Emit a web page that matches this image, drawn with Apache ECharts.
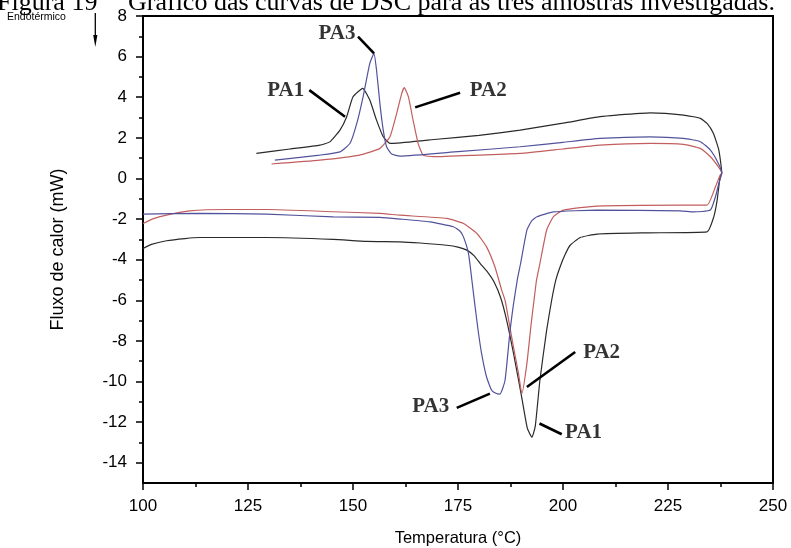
<!DOCTYPE html>
<html>
<head>
<meta charset="utf-8">
<script src="https://cdn.jsdelivr.net/npm/echarts@6.0.0/dist/echarts.min.js"></script>
<style>
html,body{margin:0;padding:0;background:#fff;}
#chart{width:791px;height:548px;}
</style>
</head>
<body>
<div id="chart"></div>
<script>
// ---- Data (Temperatura °C, Fluxo de calor mW) ----
const pa1Heating = [[100,-3.45],[102,-3.25],[105.6,-3.07],[110,-2.96],[113.5,-2.91],[129.4,-2.91],[145.3,-3.0],[153.2,-3.1],[161.2,-3.12],[166,-3.18],[172.3,-3.29],[175,-3.38],[177.1,-3.53],[178.8,-3.8],[180.3,-4.19],[182,-4.6],[183.6,-5.1],[185.2,-5.9],[186.6,-7.0],[188.3,-8.7],[190.1,-10.7],[191.5,-12.3],[192.6,-12.75],[193.4,-12.2],[194.5,-9.94],[196.1,-7.48],[197.3,-6.0],[198.3,-5.0],[199.3,-4.36],[200.5,-3.75],[201.7,-3.29],[204.1,-2.91],[208.1,-2.74],[220,-2.68],[234.3,-2.63],[235.9,-1.89],[236.7,-1.07],[237.4,0.08],[237.8,0.27]];
const pa1Cooling = [[237.8,0.27],[237.1,1.4],[235.8,2.22],[234.3,2.71],[232.7,2.96],[228.7,3.12],[220.8,3.23],[212.8,3.12],[208.8,3.04],[200,2.72],[189.8,2.38],[180,2.12],[170,1.93],[159.6,1.73],[158.8,1.73],[157.2,2.05],[155.6,2.87],[154,3.86],[152.3,4.44],[150,4.02],[148.5,3.04],[146.9,2.38],[144.5,1.8],[142.1,1.64],[135,1.45],[127,1.23]];

const pa2Heating = [[100,-2.22],[102.5,-1.98],[105.6,-1.81],[111.1,-1.6],[120,-1.53],[129.4,-1.53],[145.3,-1.64],[156.4,-1.72],[161.2,-1.81],[172.3,-1.97],[176.3,-2.22],[179.5,-2.71],[181.8,-3.37],[183.8,-4.36],[185.4,-5.5],[186.2,-6.0],[187,-6.9],[188.2,-8.3],[189.4,-9.6],[190.2,-10.6],[191.4,-9.12],[192.4,-7.2],[193.1,-6.0],[193.7,-5.0],[194.5,-4.19],[196.1,-2.55],[197.7,-1.89],[200.1,-1.56],[208.1,-1.36],[228,-1.31],[234.3,-1.31],[236.3,-0.41],[237.4,0.16],[237.8,0.27]];
const pa2Cooling = [[237.8,0.27],[237,0.57],[235.1,1.07],[232.7,1.48],[228.7,1.68],[220.8,1.73],[208.8,1.64],[200,1.45],[189.8,1.23],[180,1.15],[169.1,1.07],[166.7,1.15],[165.5,1.73],[164.3,2.87],[163.2,4.02],[162.2,4.47],[161.6,4.19],[160.4,3.2],[158.8,2.05],[156.4,1.48],[151.6,1.15],[142.1,0.9],[130.6,0.71]];

const pa3Heating = [[100,-1.76],[113.5,-1.72],[129.4,-1.76],[145.3,-1.89],[156.4,-1.92],[161.2,-2.0],[168.3,-2.14],[173.9,-2.38],[175.5,-2.6],[176.3,-2.88],[177.5,-3.7],[178.3,-5.0],[179.0,-6.2],[179.8,-7.5],[180.6,-8.6],[181.8,-9.78],[183,-10.43],[184,-10.58],[185,-10.62],[186.2,-9.94],[187.4,-7.48],[188.2,-6.2],[189.2,-4.9],[189.9,-4.19],[191.4,-2.55],[192.5,-2.1],[193.8,-1.89],[197.7,-1.65],[208,-1.56],[228,-1.6],[231.1,-1.65],[235.1,-1.56],[236.3,-0.9],[237.1,-0.25],[237.8,0.27]];
const pa3Cooling = [[237.8,0.27],[237,0.74],[235.1,1.4],[232.7,1.81],[228.7,1.97],[220.8,2.05],[208.8,1.97],[200,1.78],[189.8,1.56],[175,1.32],[161.2,1.1],[159.2,1.2],[158,1.56],[157.2,2.38],[156.4,3.7],[155.6,5.34],[155,6.16],[154,5.67],[152.4,4.02],[150.9,2.71],[149.3,1.73],[146.9,1.31],[142.1,1.15],[131.4,0.9]];

// ---- Axis ticks ----
const xTicks = [100,125,150,175,200,225,250];
const yTicks = [-14,-12,-10,-8,-6,-4,-2,0,2,4,6,8];
const yMinorTicks = [-13,-11,-9,-7,-5,-3,-1,1,3,5,7];

// ---- Annotations (data coordinates) ----
const annotationNames = ['PA3','PA1','PA2','PA2','PA3','PA1'];
const annotationText = [[146.2,7.11],[134,4.35],[182.2,4.35],[209.2,-8.58],[168.5,-11.26],[204.9,-12.53]];
const leaderFrom = [[151.2,6.98],[139.6,4.35],[175.5,4.22],[202.9,-8.55],[174.7,-11.3],[199.7,-12.6]];
const leaderTo = [[155,6.16],[148.1,3.04],[164.8,3.5],[191.4,-10.27],[182.6,-10.6],[194.4,-12.07]];

const colors = {PA1:'#2a2a2a', PA2:'#c25e5e', PA3:'#52529c'};

const chart = echarts.init(document.getElementById('chart'), null, {renderer:'canvas'});

function curve(name, heat, cool){
  return {
    name, type:'line', data: heat.concat(cool.slice(1)),
    showSymbol:false, symbol:'none', smooth:0.15, silent:true,
    lineStyle:{color:colors[name], width:1.2}, z:3
  };
}

const option = {
  animation:false,
  backgroundColor:'#fff',
  grid:{left:143, right:18, top:16, bottom:65, outerBoundsMode:'none', containLabel:false, show:true, borderColor:'#000', borderWidth:2, backgroundColor:'transparent'},
  xAxis:{
    type:'value', min:100, max:250, interval:25,
    name:'Temperatura (°C)', nameLocation:'middle', nameGap:47,
    nameTextStyle:{fontFamily:'Liberation Sans', fontSize:16.5, color:'#000'},
    axisLine:{onZero:false, lineStyle:{color:'#000', width:2}},
    axisTick:{show:true, inside:false, length:7, lineStyle:{color:'#000', width:1.5}, customValues:xTicks},
    minorTick:{show:true, splitNumber:2, length:4, lineStyle:{color:'#000', width:1.5}},
    axisLabel:{fontFamily:'Liberation Sans', fontSize:17, color:'#000', margin:15, customValues:xTicks},
    splitLine:{show:false}
  },
  yAxis:[{
    type:'value', min:-15, max:8,
    name:'Fluxo de calor (mW)', nameLocation:'middle', nameGap:76, nameRotate:90,
    nameTextStyle:{fontFamily:'Liberation Sans', fontSize:18, color:'#000'},
    axisLine:{onZero:false, lineStyle:{color:'#000', width:2}},
    axisTick:{show:true, length:7, lineStyle:{color:'#000', width:1.5}, customValues:yTicks},
    axisLabel:{fontFamily:'Liberation Sans', fontSize:17, color:'#000', margin:16, customValues:yTicks},
    splitLine:{show:false}
  },{
    type:'value', min:-15, max:8, position:'left',
    axisLine:{show:false, onZero:false},
    axisTick:{show:true, length:4, lineStyle:{color:'#000', width:1.5}, customValues:yMinorTicks},
    axisLabel:{show:false, customValues:yMinorTicks},
    splitLine:{show:false}
  }],
  graphic:[
    {type:'text', left:-3, top:-10, style:{text:'Figura 19', font:'26px "Liberation Serif"', fill:'#000'}},
    {type:'text', left:128, top:-10, style:{text:'Gráfico das curvas de DSC para as três amostras investigadas.', font:'26px "Liberation Serif"', fill:'#000'}},
    {type:'text', left:7, top:12, style:{text:'Endotérmico', font:'10.5px "Liberation Sans"', fill:'#000'}},
    {type:'line', shape:{x1:95.3, y1:13, x2:95.3, y2:38}, style:{stroke:'#000', lineWidth:1.3}},
    {type:'polygon', shape:{points:[[93.2,35],[97.4,35],[95.3,47]]}, style:{fill:'#000'}}
  ],
  series:[
    curve('PA1', pa1Heating, pa1Cooling),
    curve('PA2', pa2Heating, pa2Cooling),
    curve('PA3', pa3Heating, pa3Cooling),
    {
      type:'lines', coordinateSystem:'cartesian2d', silent:true, z:4,
      lineStyle:{color:'#000', width:2.6, opacity:1},
      data: leaderFrom.map((p,i)=>({coords:[p, leaderTo[i]]}))
    },
    {
      type:'scatter', silent:true, symbolSize:0, z:5,
      data: annotationText.map((p,i)=>({name:annotationNames[i], value:p})),
      label:{show:true, position:'inside', formatter:p=>p.name, fontFamily:'Liberation Serif', fontWeight:'bold', fontSize:21, color:'#000'}
    }
  ]
};
chart.setOption(option);
</script>
</body>
</html>
